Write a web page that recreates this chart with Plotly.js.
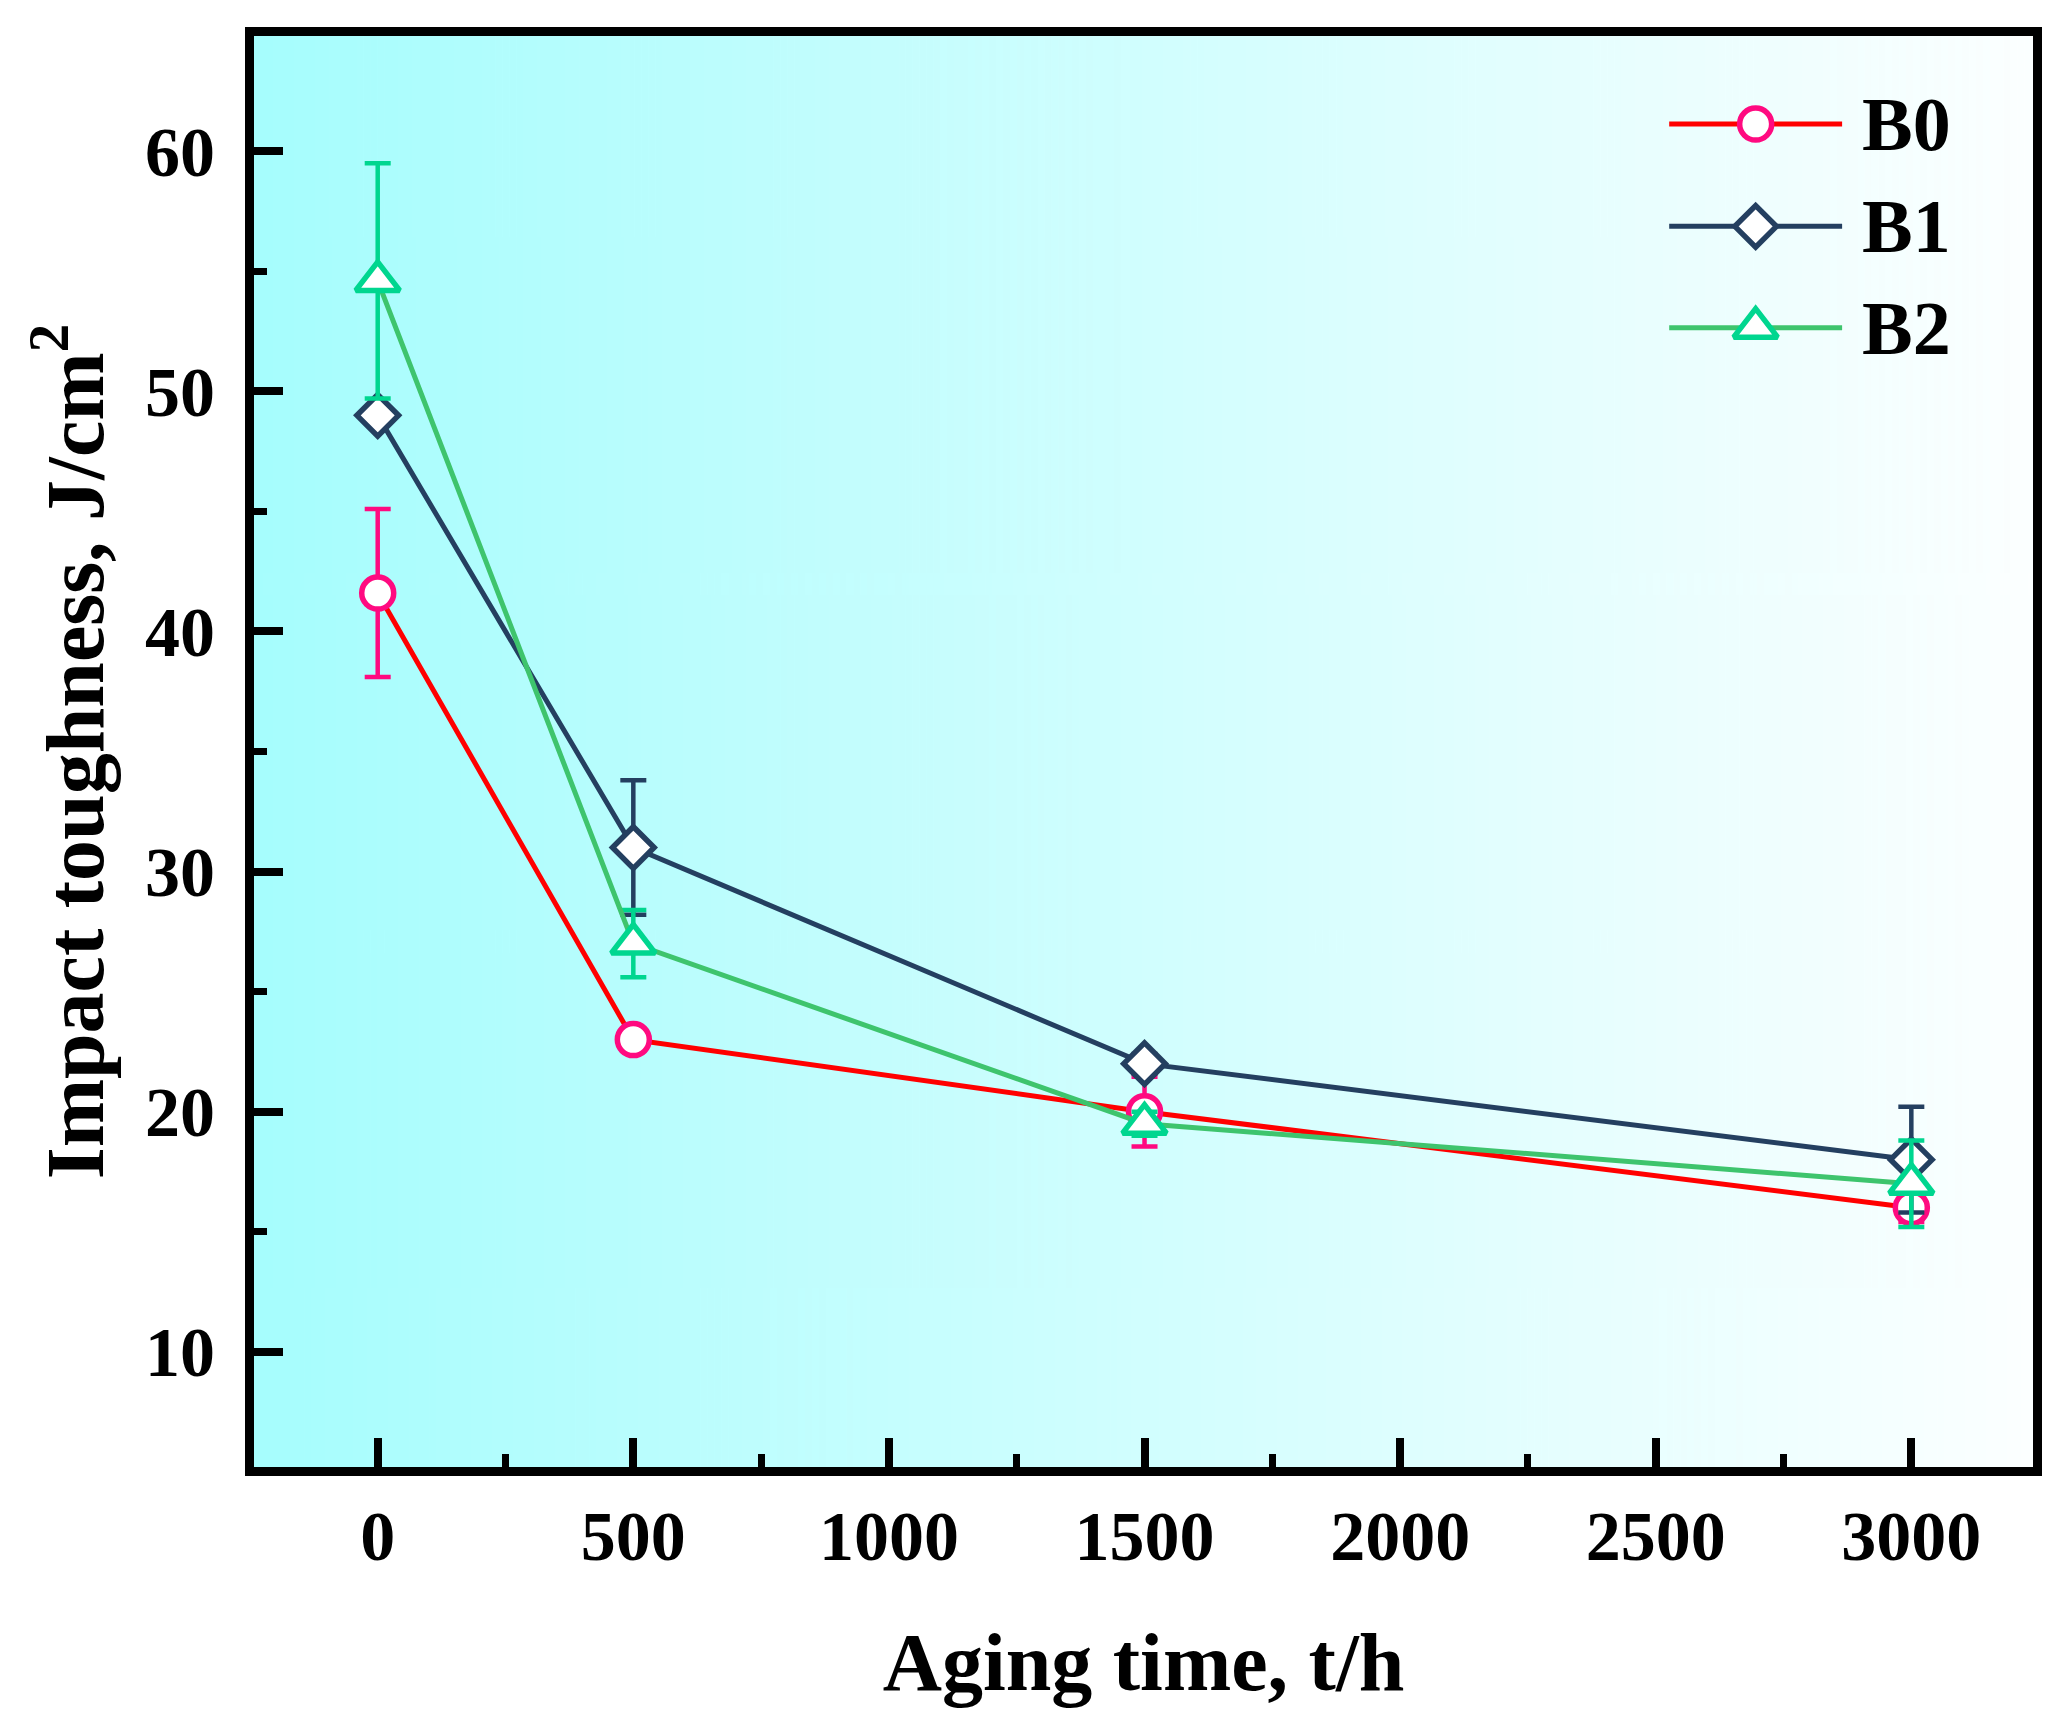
<!DOCTYPE html>
<html>
<head>
<meta charset="utf-8">
<script src="https://cdn.plot.ly/plotly-3.0.1.min.js"></script>
<style>
  html, body { margin: 0; padding: 0; background: #fff; }
  #chart { width: 2071px; height: 1731px; }
</style>
</head>
<body>
<div id="chart"></div>
<script>
// aging time (h)
const agingTime = [0, 500, 1500, 3000];

// impact toughness (J/cm2) and error bars
const b0 = [41.6, 23.0, 20.0, 16.0];
const b0Err = [3.5, 0.4, 1.45, 0.6];
const b1 = [49.0, 31.0, 22.0, 18.0];
const b1Err = [0.3, 2.8, 0.4, 2.2];
const b2 = [54.6, 27.0, 19.5, 17.0];
const b2Err = [4.9, 1.4, 0.5, 1.8];

const seriesNames = ["B0", "B1", "B2"];
const xTicks = [0, 500, 1000, 1500, 2000, 2500, 3000];
const yTicks = [10, 20, 30, 40, 50, 60];

const serif = "Liberation Serif, Times New Roman, serif";

const styles = [
  { line: "#ff0000", mark: "#ff0a80", symbol: "circle", size: 32 },
  { line: "#243f60", mark: "#243f60", symbol: "diamond", size: 32 },
  { line: "#3ec46d", mark: "#00d68f", symbol: "triangle-up", size: 38 }
];

// horizontal gradient for the plot background
function gradientImage() {
  const c = document.createElement("canvas");
  c.width = 512;
  c.height = 4;
  const ctx = c.getContext("2d");
  const g = ctx.createLinearGradient(0, 0, 512, 0);
  g.addColorStop(0, "rgb(166,253,253)");
  g.addColorStop(1, "rgb(252,255,255)");
  ctx.fillStyle = g;
  ctx.fillRect(0, 0, 512, 4);
  return c.toDataURL("image/png");
}

function markerStyle(s) {
  return {
    symbol: s.symbol,
    size: s.size,
    color: "#ffffff",
    line: { color: s.mark, width: 5.5 }
  };
}

function makeTrace(y, err, i) {
  const s = styles[i];
  return {
    x: agingTime,
    y: y,
    name: seriesNames[i],
    type: "scatter",
    mode: "lines+markers",
    line: { color: s.line, width: 5 },
    marker: markerStyle(s),
    error_y: {
      type: "data",
      array: err,
      visible: true,
      color: s.mark,
      thickness: 4.5,
      width: 13
    },
    showlegend: false,
    cliponaxis: false
  };
}

const data = [
  makeTrace(b0, b0Err, 0),
  makeTrace(b1, b1Err, 1),
  makeTrace(b2, b2Err, 2)
];

// custom legend drawn on an overlay axis in [0,1] units
const legendBox = { x0: 0.7955, x1: 0.8927, rows: [0.9385, 0.867, 0.7962], textX: 0.9028 };
const annotations = [];
seriesNames.forEach(function (name, i) {
  const s = styles[i];
  const ly = legendBox.rows[i];
  data.push({
    x: [legendBox.x0, legendBox.x1],
    y: [ly, ly],
    xaxis: "x2", yaxis: "y2",
    mode: "lines",
    line: { color: s.line, width: 5 },
    hoverinfo: "skip",
    showlegend: false
  });
  data.push({
    x: [(legendBox.x0 + legendBox.x1) / 2],
    y: [ly],
    xaxis: "x2", yaxis: "y2",
    mode: "markers",
    marker: markerStyle(s),
    hoverinfo: "skip",
    showlegend: false
  });
  annotations.push({
    xref: "paper", yref: "paper",
    x: legendBox.textX, y: ly,
    xanchor: "left", yanchor: "middle",
    text: name,
    showarrow: false,
    font: { family: serif, size: 76, color: "#000", weight: "bold" }
  });
});

const axisCommon = {
  showline: true,
  linecolor: "#000",
  linewidth: 9,
  mirror: true,
  ticks: "inside",
  ticklen: 29,
  tickwidth: 8,
  tickcolor: "#000",
  showgrid: false,
  zeroline: false,
  tickfont: { family: serif, size: 70, color: "#000", weight: "bold" }
};

const layout = {
  width: 2071,
  height: 1731,
  margin: { l: 254, r: 38, t: 36, b: 264 },
  paper_bgcolor: "#ffffff",
  plot_bgcolor: "rgba(0,0,0,0)",
  font: { family: serif, color: "#000" },
  xaxis: Object.assign({}, axisCommon, {
    range: [-242, 3238],
    tickmode: "array",
    tickvals: xTicks,
    ticktext: xTicks.map(String),
    ticklabelstandoff: 0,
    minor: { dtick: 250, tick0: 0, ticks: "inside", ticklen: 13, tickwidth: 7, tickcolor: "#000" },
    title: {
      text: "Aging time, t/h",
      font: { family: serif, size: 82, color: "#000", weight: "bold" },
      standoff: 62
    }
  }),
  yaxis: Object.assign({}, axisCommon, {
    range: [5.2, 64.8],
    tickmode: "array",
    tickvals: yTicks,
    ticktext: yTicks.map(String),
    ticklabelstandoff: 16,
    minor: { dtick: 5, tick0: 0, ticks: "inside", ticklen: 13, tickwidth: 7, tickcolor: "#000" },
    title: {
      text: "Impact toughness, J/cm<sup>2</sup>",
      font: { family: serif, size: 82, color: "#000", weight: "bold" },
      standoff: 18
    }
  }),
  xaxis2: { overlaying: "x", range: [0, 1], visible: false, fixedrange: true },
  yaxis2: { overlaying: "y", range: [0, 1], visible: false, fixedrange: true },
  images: [{
    source: gradientImage(),
    xref: "paper", yref: "paper",
    x: 0, y: 1, sizex: 1, sizey: 1,
    xanchor: "left", yanchor: "top",
    sizing: "stretch",
    layer: "below"
  }],
  annotations: annotations,
  showlegend: false
};

Plotly.newPlot("chart", data, layout, { displayModeBar: false, staticPlot: true });
</script>
</body>
</html>
